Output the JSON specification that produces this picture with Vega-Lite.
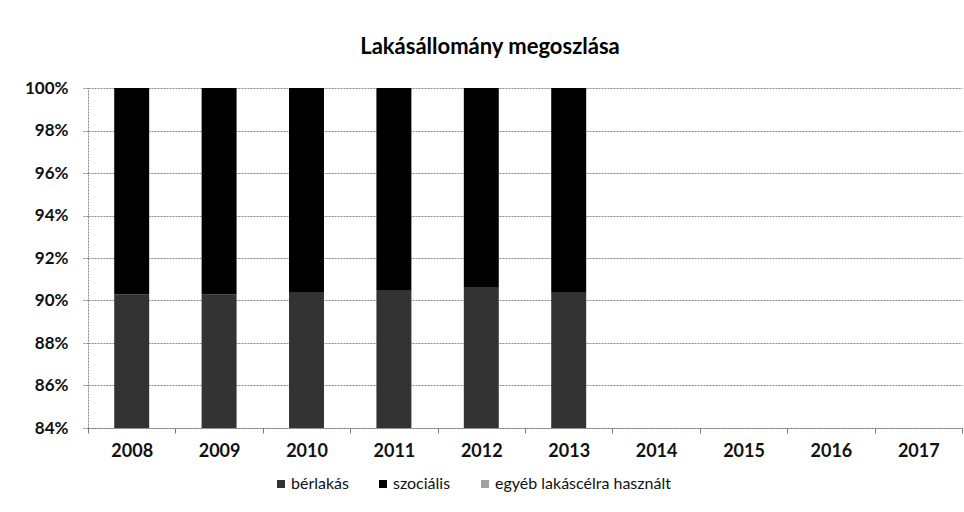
{
  "$schema": "https://vega.github.io/schema/vega-lite/v6.json",
  "width": 874,
  "height": 340,
  "autosize": {"type": "none"},
  "padding": {"left": 88, "top": 88, "right": 2, "bottom": 84},
  "background": "white",
  "title": {"text": "Lakásállomány megoszlása", "fontSize": 22, "font": "Lato", "fontWeight": "bold", "color": "#000", "offset": 20, "dx": -35},
  "config": {"view": {"stroke": null}, "font": "Lato"},
  "data": {"values": [
    {"year": "2008", "series": "bérlakás", "value": 0.903},
    {"year": "2008", "series": "szociális", "value": 0.097},
    {"year": "2008", "series": "egyéb lakáscélra használt", "value": 0.0},
    {"year": "2009", "series": "bérlakás", "value": 0.903},
    {"year": "2009", "series": "szociális", "value": 0.097},
    {"year": "2009", "series": "egyéb lakáscélra használt", "value": 0.0},
    {"year": "2010", "series": "bérlakás", "value": 0.904},
    {"year": "2010", "series": "szociális", "value": 0.096},
    {"year": "2010", "series": "egyéb lakáscélra használt", "value": 0.0},
    {"year": "2011", "series": "bérlakás", "value": 0.905},
    {"year": "2011", "series": "szociális", "value": 0.095},
    {"year": "2011", "series": "egyéb lakáscélra használt", "value": 0.0},
    {"year": "2012", "series": "bérlakás", "value": 0.906},
    {"year": "2012", "series": "szociális", "value": 0.094},
    {"year": "2012", "series": "egyéb lakáscélra használt", "value": 0.0},
    {"year": "2013", "series": "bérlakás", "value": 0.904},
    {"year": "2013", "series": "szociális", "value": 0.096},
    {"year": "2013", "series": "egyéb lakáscélra használt", "value": 0.0}
  ]},
  "mark": {"type": "bar", "clip": true, "width": {"band": 0.4}},
  "encoding": {
    "x": {
      "field": "year", "type": "nominal", "title": null,
      "scale": {"domain": ["2008","2009","2010","2011","2012","2013","2014","2015","2016","2017"], "paddingInner": 0, "paddingOuter": 0},
      "axis": {"labelAngle": 0, "labelFontSize": 18, "labelFontWeight": "bold", "labelColor": "#111", "labelPadding": 9, "tickBand": "extent", "tickSize": 5, "tickColor": "#777", "domainColor": "#777", "domainDash": [2, 1]}
    },
    "y": {
      "field": "value", "type": "quantitative", "title": null, "stack": "zero",
      "scale": {"domain": [0.84, 1.0], "nice": false, "zero": false},
      "axis": {"values": [0.84, 0.86, 0.88, 0.9, 0.92, 0.94, 0.96, 0.98, 1.0], "format": ".0%", "labelFontSize": 17, "labelFontWeight": "bold", "labelColor": "#111", "labelPadding": 14, "tickSize": 6, "tickColor": "#888", "tickDash": [2, 1], "domainColor": "#888", "domainDash": [2, 1], "grid": true, "gridColor": "#888", "gridDash": [2, 1], "gridWidth": 1}
    },
    "color": {
      "field": "series", "type": "nominal", "title": null,
      "scale": {"domain": ["bérlakás", "szociális", "egyéb lakáscélra használt"], "range": ["#333333", "#000000", "#a0a0a0"]},
      "legend": {"orient": "none", "legendX": 185, "legendY": 388, "direction": "horizontal", "symbolType": "square", "symbolSize": 64, "labelFontSize": 16, "labelColor": "#111", "labelOffset": 2, "labelLimit": 400, "columnPadding": 26, "symbolStrokeWidth": 0}
    },
    "order": {"field": "series", "sort": "ascending"}
  }
}
